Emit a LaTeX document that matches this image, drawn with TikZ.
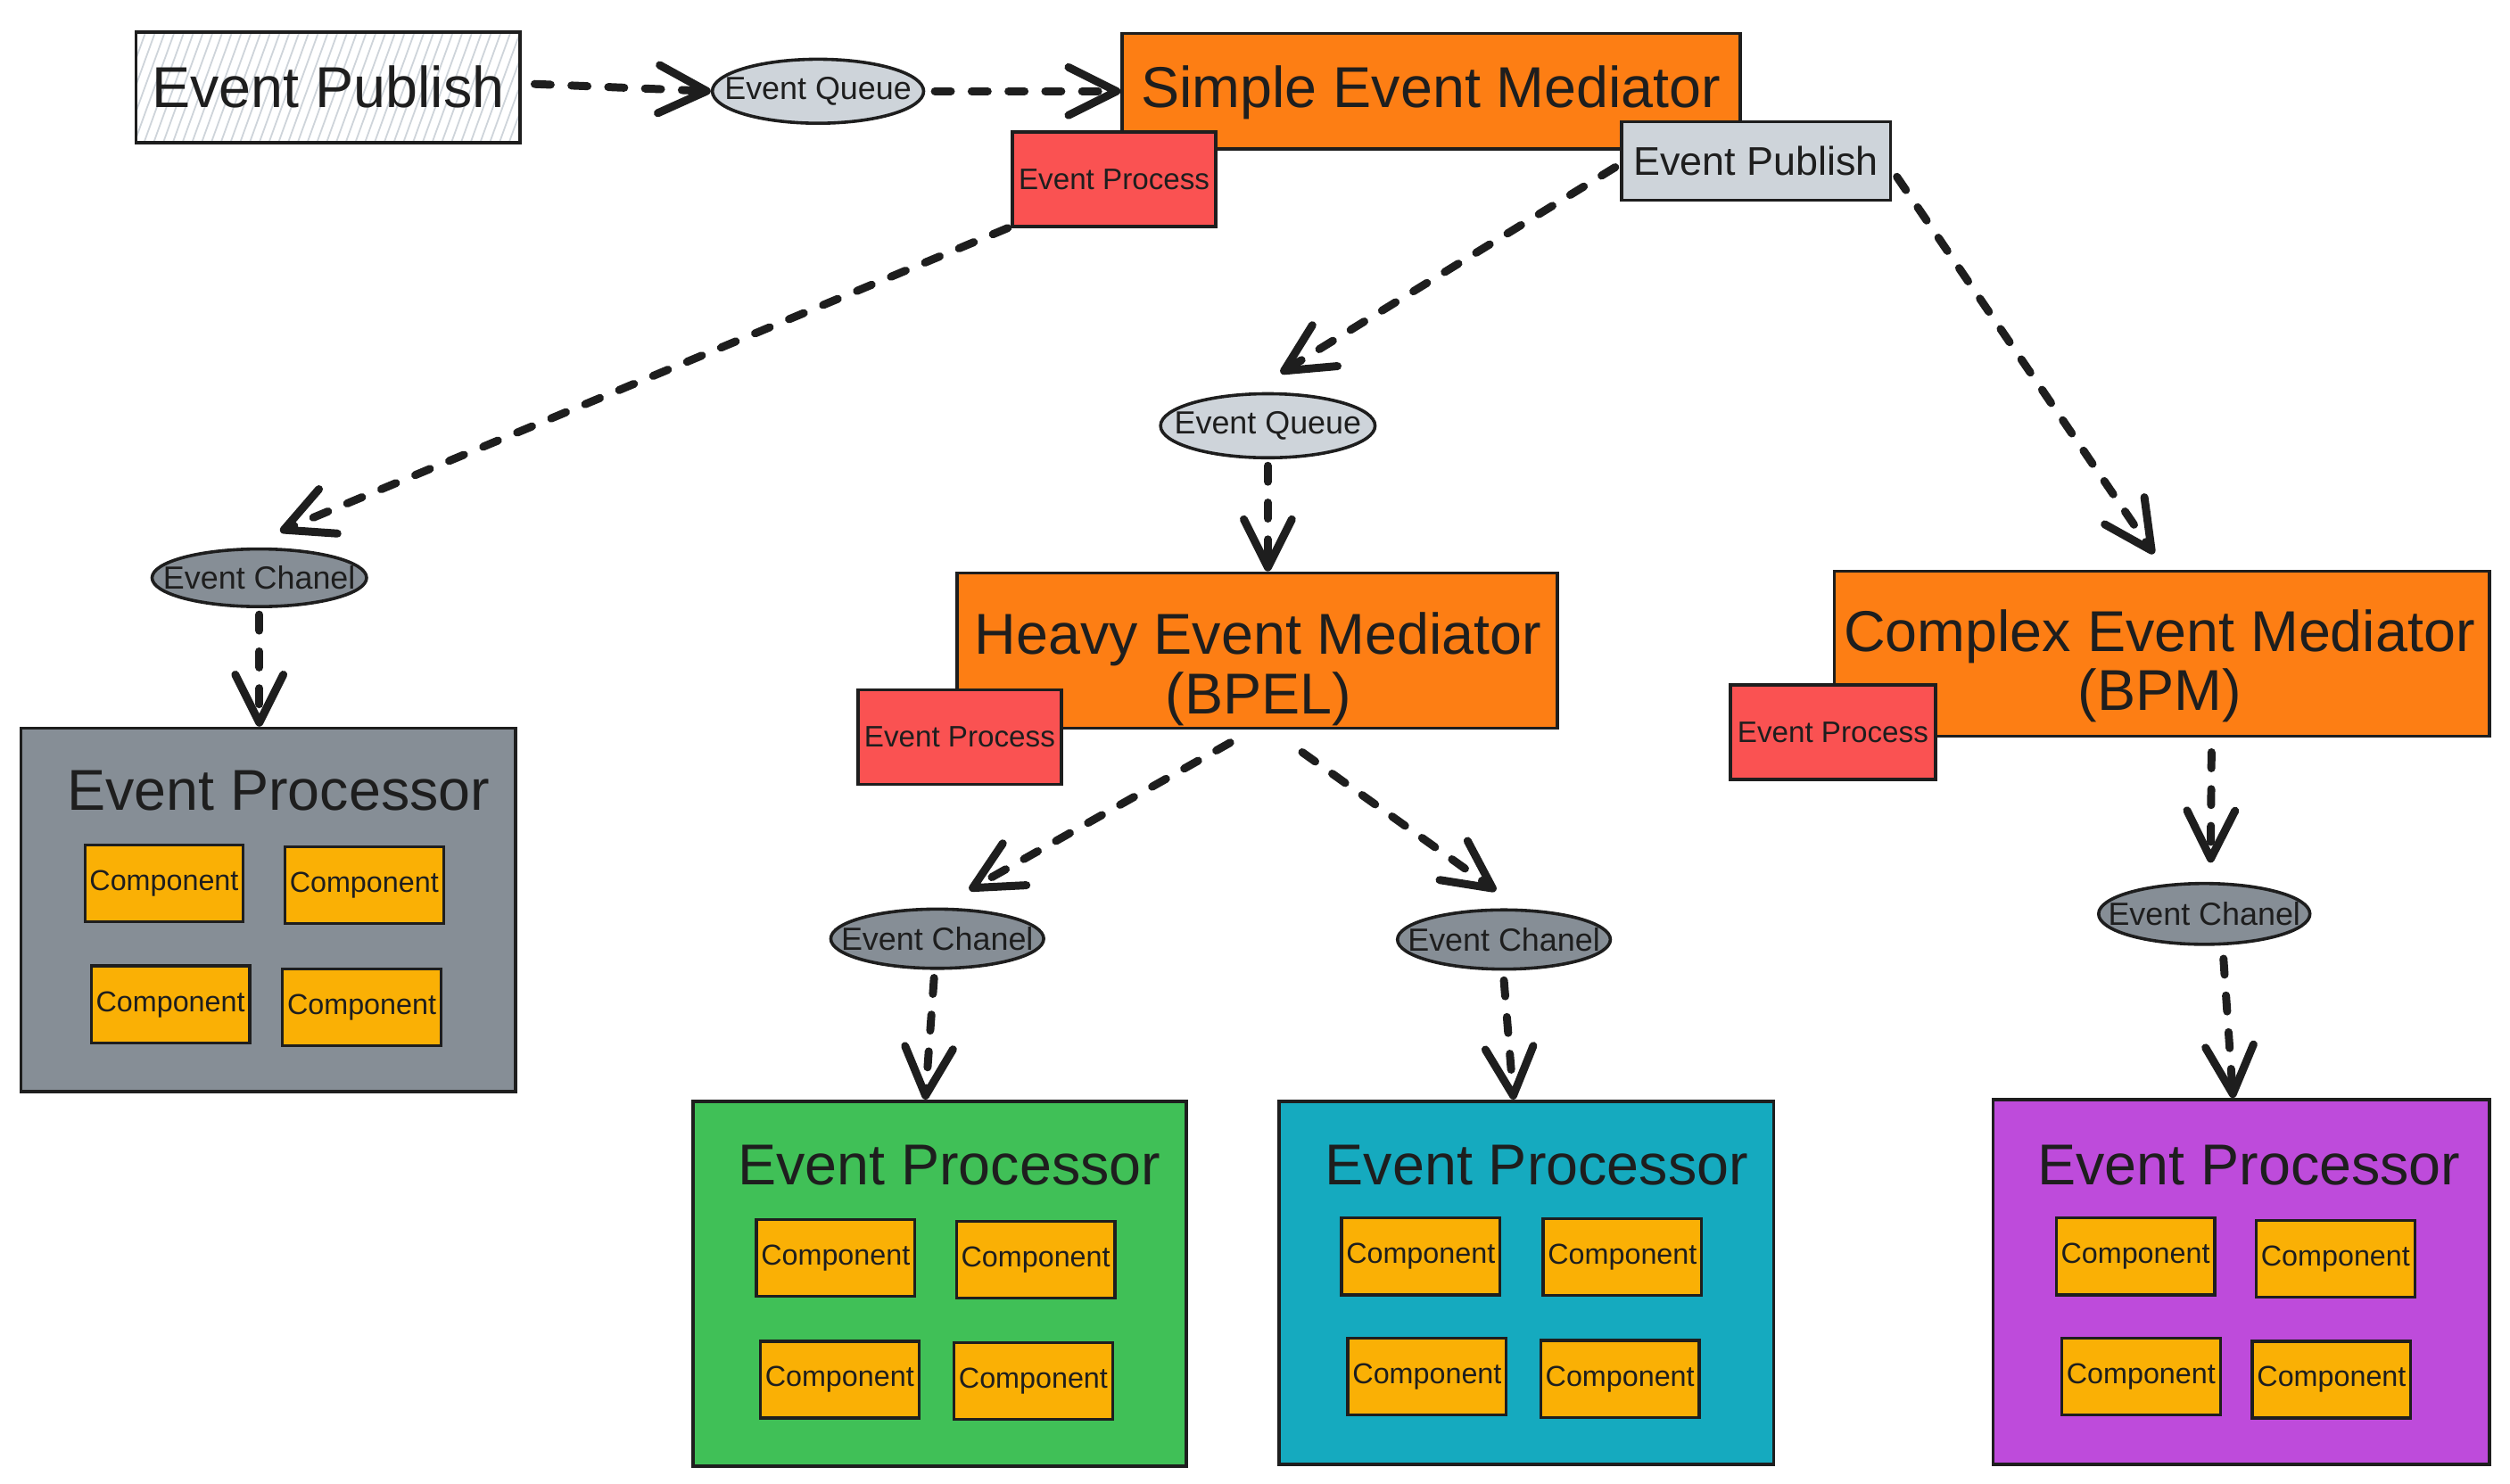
\documentclass[tikz,border=0pt]{standalone}
\usepackage{fontspec}
\setmainfont{Liberation Sans}
\usetikzlibrary{arrows.meta,shapes.geometric}
\definecolor{ink}{HTML}{1E1E1E}
\definecolor{exorange}{HTML}{FD7E14}
\definecolor{exred}{HTML}{FA5252}
\definecolor{lgray}{HTML}{CED4DA}
\definecolor{dgray}{HTML}{868E96}
\definecolor{exyellow}{HTML}{FAB005}
\definecolor{exgreen}{HTML}{40C057}
\definecolor{exteal}{HTML}{15AABF}
\definecolor{expurple}{HTML}{BE4BDB}
\begin{document}
\begin{tikzpicture}[x=1pt,y=-1pt,
  box/.style={draw=ink, line width=2pt, inner sep=0pt, text=ink},
  bigtxt/.style={font=\fontsize{36}{37}\selectfont, text=ink},
  proc/.style={box, fill=exred, minimum width=127pt, minimum height=59pt, font=\fontsize{18.5}{20}\selectfont},
  comp/.style={box, line width=1.8pt, fill=exyellow, minimum width=99pt, minimum height=48pt, font=\fontsize{18}{20}\selectfont},
  ell/.style={ellipse, draw=ink, line width=2pt, inner sep=0pt},
  elltxt/.style={font=\fontsize{20}{22}\selectfont, text=ink},
  epbox/.style={box, minimum width=309pt, minimum height=228pt},
  conn/.style={draw=ink, line width=5pt, dash pattern=on 10pt off 13pt, line cap=round,
    -{Straight Barb[length=30pt,width=30pt,round]}}
]
\useasboundingbox (0,0) rectangle (1568,927);

% hatched publisher
\begin{scope}
  \clip (85,20) rectangle (325,89);
  \foreach \i in {85,91,...,361} \draw[lgray, line width=1pt] (\i,20) -- (\i-25,89);
\end{scope}
\node[box, minimum width=240pt, minimum height=69pt, bigtxt] (pub) at (205,54.5) {Event Publish};

\node[ell, fill=lgray, minimum width=132pt, minimum height=40pt,
  label={[elltxt]center:Event Queue}] (eq1) at (511,57) {};

\node[box, fill=exorange, minimum width=386pt, minimum height=72pt] (sem) at (894,57) {};
\node[bigtxt, inner sep=0pt] (semt) at (894,58) {Simple Event Mediator};
\node[proc] (ep1) at (696,112) {Event Process};
\node[box, fill=lgray, minimum width=168pt, minimum height=49pt, font=\fontsize{25}{27}\selectfont] (gp) at (1097,100.5) {Event Publish};

\node[ell, fill=lgray, minimum width=134pt, minimum height=40pt,
  label={[elltxt]center:Event Queue}] (eq2) at (792,266) {};

% heavy mediator
\node[box, fill=exorange, minimum width=375pt, minimum height=97pt] (hem) at (785.5,406.5) {};
\node[bigtxt, align=center, inner sep=0pt] (hemt) at (786,418) {Heavy Event Mediator\\(BPEL)};
\node[proc] (ep2) at (599.5,460.5) {Event Process};

% complex mediator
\node[box, fill=exorange, minimum width=409pt, minimum height=103pt] (cem) at (1350.5,408.5) {};
\node[bigtxt, align=center, inner sep=0pt] (cemt) at (1349,416) {Complex Event Mediator\\(BPM)};
\node[proc, minimum width=128pt] (ep3) at (1145,457.5) {Event Process};

% channels
\node[ell, fill=dgray, minimum width=134pt, minimum height=36pt,
  label={[elltxt]center:Event Chanel}] (ch1) at (162,361) {};
\node[ell, fill=dgray, minimum width=133pt, minimum height=37pt,
  label={[elltxt]center:Event Chanel}] (ch2) at (585.5,586.5) {};
\node[ell, fill=dgray, minimum width=133pt, minimum height=37pt,
  label={[elltxt]center:Event Chanel}] (ch3) at (939.5,587) {};
\node[ell, fill=dgray, minimum width=132pt, minimum height=38pt,
  label={[elltxt]center:Event Chanel}] (ch4) at (1377,571) {};

% event processors
\node[epbox, fill=dgray, minimum height=227pt] (epg) at (167.5,568.5) {};
\node[bigtxt, inner sep=0pt] (epgt) at (174,494) {Event Processor};
\node[comp] (g1) at (102.5,552) {Component};
\node[comp] (g2) at (227.5,553) {Component};
\node[comp] (g3) at (106.5,627.5) {Component};
\node[comp] (g4) at (226,629.5) {Component};

\node[epbox, fill=exgreen, minimum width=308pt] (epr) at (587,802) {};
\node[bigtxt, inner sep=0pt] (eprt) at (593,728) {Event Processor};
\node[comp] (r1) at (522,786) {Component};
\node[comp] (r2) at (647,787) {Component};
\node[comp] (r3) at (524.5,862) {Component};
\node[comp] (r4) at (645.5,863) {Component};

\node[epbox, fill=exteal, minimum height=227pt] (ept) at (953.5,801.5) {};
\node[bigtxt, inner sep=0pt] (eptt) at (960,728) {Event Processor};
\node[comp] (t1) at (887.5,785) {Component};
\node[comp] (t2) at (1013.5,785.5) {Component};
\node[comp] (t3) at (891.5,860) {Component};
\node[comp] (t4) at (1012,861.5) {Component};

\node[epbox, fill=expurple, minimum width=310pt] (epp) at (1400,801) {};
\node[bigtxt, inner sep=0pt] (eppt) at (1405,728) {Event Processor};
\node[comp] (p1) at (1334,785) {Component};
\node[comp] (p2) at (1459,786.5) {Component};
\node[comp] (p3) at (1337.5,860) {Component};
\node[comp] (p4) at (1456.5,862) {Component};

% connectors
\draw[conn] ([xshift=8pt,yshift=2pt]pub.east) -- (eq1.west);
\draw[conn] ([xshift=6pt]eq1.east) -- (sem.west);
\draw[conn] ([xshift=-2pt]ep1.south west) -- ([xshift=13pt,yshift=10pt]ch1.north);
\draw[conn] ([xshift=-3pt,yshift=-4pt]gp.west) -- ([xshift=8pt,yshift=12pt]eq2.north);
\draw[conn] ([xshift=3pt,yshift=-10pt]gp.east) -- ([xshift=-5pt,yshift=10pt]cem.north);
\draw[conn] ([yshift=-4pt]eq2.south) -- (eq2.south |- hem.north);
\draw[conn] ([yshift=-4pt]ch1.south) -- (ch1.south |- epg.north);
\draw[conn] ([xshift=-17pt,yshift=-8pt]hem.south) -- ([xshift=20pt,yshift=11pt]ch2.north);
\draw[conn] ([xshift=28pt,yshift=-14pt]hem.south) -- ([xshift=-5pt,yshift=11pt]ch3.north);
\draw[conn] ([xshift=-2pt,yshift=-5pt]ch2.south) -- ([xshift=-9pt]epr.north);
\draw[conn] ([yshift=-6pt]ch3.south) -- ([xshift=-8pt]ept.north);
\draw[conn] ([xshift=31pt,yshift=-9pt]cem.south) -- ([xshift=4pt,yshift=12pt]ch4.north);
\draw[conn] ([xshift=12pt,yshift=-8pt]ch4.south) -- ([xshift=-5pt]epp.north);
\end{tikzpicture}
\end{document}
